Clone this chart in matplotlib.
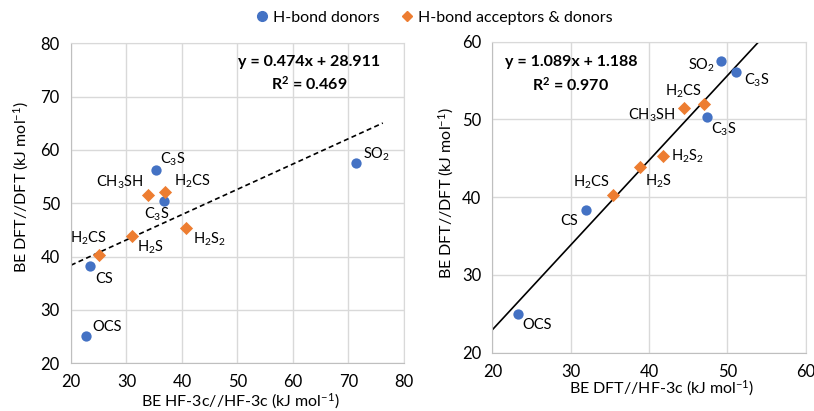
import matplotlib
matplotlib.use('Agg')
import matplotlib.pyplot as plt
import numpy as np

plt.rcParams['font.family'] = ['Lato', 'DejaVu Sans']
plt.rcParams['mathtext.fontset'] = 'custom'
plt.rcParams['mathtext.rm'] = 'Lato'
plt.rcParams['mathtext.bf'] = 'Lato:bold'
plt.rcParams['mathtext.default'] = 'regular'

blue = '#4472C4'
orange = '#ED7D31'
grid_color = '#D9D9D9'

# left panel: BE HF-3c//HF-3c vs BE DFT//DFT
left_donor_names = ['OCS', 'CS', 'C$_3$S', 'C$_3$S', 'SO$_2$']
left_donor_x = [22.7, 23.4, 35.4, 36.7, 71.4]
left_donor_y = [25.1, 38.3, 56.2, 50.5, 57.5]
left_acc_names = ['H$_2$CS', 'H$_2$S', 'CH$_3$SH', 'H$_2$CS', 'H$_2$S$_2$']
left_acc_x = [25.1, 31.0, 33.9, 37.0, 40.7]
left_acc_y = [40.3, 43.9, 51.6, 52.1, 45.3]

# right panel: BE DFT//HF-3c vs BE DFT//DFT
right_donor_names = ['OCS', 'CS', 'C$_3$S', 'SO$_2$', 'C$_3$S']
right_donor_x = [23.2, 32.0, 47.4, 49.2, 51.1]
right_donor_y = [25.0, 38.3, 50.3, 57.5, 56.1]
right_acc_names = ['H$_2$CS', 'H$_2$S', 'H$_2$S$_2$', 'CH$_3$SH', 'H$_2$CS']
right_acc_x = [35.4, 38.9, 41.8, 44.4, 47.0]
right_acc_y = [40.3, 43.9, 45.3, 51.5, 52.0]

left_fit = (0.474, 28.911, 0.469)
right_fit = (1.089, 1.188, 0.970)

# label offsets in pixels (dx, dy, ha)
left_donor_off = [(6, 9, 'left'), (5, -13, 'left'), (4, 11, 'left'), (-7, -14, 'center'), (7, 9, 'left')]
left_acc_off = [(-11, 17, 'center'), (5, -12, 'left'), (-5, 12, 'right'), (9, 11, 'left'), (7, -11, 'left')]
right_donor_off = [(5, -11, 'left'), (-8, -11, 'right'), (4, -12, 'left'), (-6, -4, 'right'), (8, -8, 'left')]
right_acc_off = [(-3, 13, 'right'), (5, -14, 'left'), (8, 0, 'left'), (-8, -7, 'right'), (-2, 13, 'right')]

fig = plt.figure(figsize=(8.14, 4.11), dpi=100)
ax1 = fig.add_axes([0.0872, 0.116, 0.409, 0.779])
ax2 = fig.add_axes([0.605, 0.1418, 0.3848, 0.7567])


def style(ax, xlim, ylim):
    ax.set_xlim(*xlim)
    ax.set_ylim(*ylim)
    ax.grid(True, color=grid_color, linewidth=1)
    ax.set_axisbelow(True)
    for s in ax.spines.values():
        s.set_color(grid_color)
    ax.spines['left'].set_color('#BFBFBF')
    ax.spines['bottom'].set_color('#BFBFBF')
    ax.tick_params(length=0, labelsize=12, pad=8, colors='black')


def scatter_panel(ax, dx, dy, dn, doff, axx, ayy, an, aoff):
    ax.scatter(dx, dy, s=55, color=blue, marker='o', zorder=3, linewidths=0)
    ax.scatter(axx, ayy, s=45, color=orange, marker='D', zorder=3, linewidths=0)
    for x, y, n, (ox, oy, ha) in zip(dx, dy, dn, doff):
        ax.annotate(n, (x, y), xytext=(ox, oy), textcoords='offset pixels',
                    ha=ha, va='center', fontsize=10.5)
    for x, y, n, (ox, oy, ha) in zip(axx, ayy, an, aoff):
        ax.annotate(n, (x, y), xytext=(ox, oy), textcoords='offset pixels',
                    ha=ha, va='center', fontsize=10.5)


style(ax1, (20, 80), (20, 80))
ax1.set_xticks(np.arange(20, 81, 10))
ax1.set_yticks(np.arange(20, 81, 10))
xs = np.array([20, 76.2])
ax1.plot(xs, left_fit[0] * xs + left_fit[1], color='black', linestyle=(0, (3, 2)),
         linewidth=1.2, zorder=2)
scatter_panel(ax1, left_donor_x, left_donor_y, left_donor_names, left_donor_off,
              left_acc_x, left_acc_y, left_acc_names, left_acc_off)
ax1.text(0.715, 0.94, 'y = %.3fx + %.3f' % left_fit[:2], transform=ax1.transAxes,
         ha='center', va='center', fontsize=11.5, fontweight='bold')
ax1.text(0.715, 0.872, 'R$^{2}$ = %.3f' % left_fit[2], transform=ax1.transAxes,
         ha='center', va='center', fontsize=11.5, fontweight='bold')
ax1.set_xlabel('BE HF-3c//HF-3c (kJ mol$^{-1}$)', fontsize=11.5, va='center')
ax1.set_ylabel('BE DFT//DFT (kJ mol$^{-1}$)', fontsize=11.5, va='center')
ax1.xaxis.set_label_coords(0.51, -0.118)
ax1.yaxis.set_label_coords(-0.148, 0.549)

style(ax2, (20, 60), (20, 60))
ax2.set_xticks(np.arange(20, 61, 10))
ax2.set_yticks(np.arange(20, 61, 10))
xs2 = np.array([20, (60 - right_fit[1]) / right_fit[0]])
ax2.plot(xs2, right_fit[0] * xs2 + right_fit[1], color='black', linewidth=1.2, zorder=2)
scatter_panel(ax2, right_donor_x, right_donor_y, right_donor_names, right_donor_off,
              right_acc_x, right_acc_y, right_acc_names, right_acc_off)
ax2.text(0.25, 0.935, 'y = %.3fx + %.3f' % right_fit[:2], transform=ax2.transAxes,
         ha='center', va='center', fontsize=11.5, fontweight='bold')
ax2.text(0.25, 0.862, 'R$^{2}$ = %.3f' % right_fit[2], transform=ax2.transAxes,
         ha='center', va='center', fontsize=11.5, fontweight='bold')
ax2.set_xlabel('BE DFT//HF-3c (kJ mol$^{-1}$)', fontsize=11.5, va='center')
ax2.set_ylabel('BE DFT//DFT (kJ mol$^{-1}$)', fontsize=11.5, va='center')
ax2.xaxis.set_label_coords(0.539, -0.114)
ax2.yaxis.set_label_coords(-0.146, 0.513)

h1 = plt.Line2D([], [], color=blue, marker='o', linestyle='none', markersize=7)
h2 = plt.Line2D([], [], color=orange, marker='D', linestyle='none', markersize=5.5)
fig.legend([h1, h2], ['H-bond donors', 'H-bond acceptors & donors'],
           loc='center', bbox_to_anchor=(0.532, 0.957), ncol=2, frameon=False,
           fontsize=11.5, handletextpad=0.2, columnspacing=1.2, handlelength=1)

fig.savefig('out.png', dpi=100)
